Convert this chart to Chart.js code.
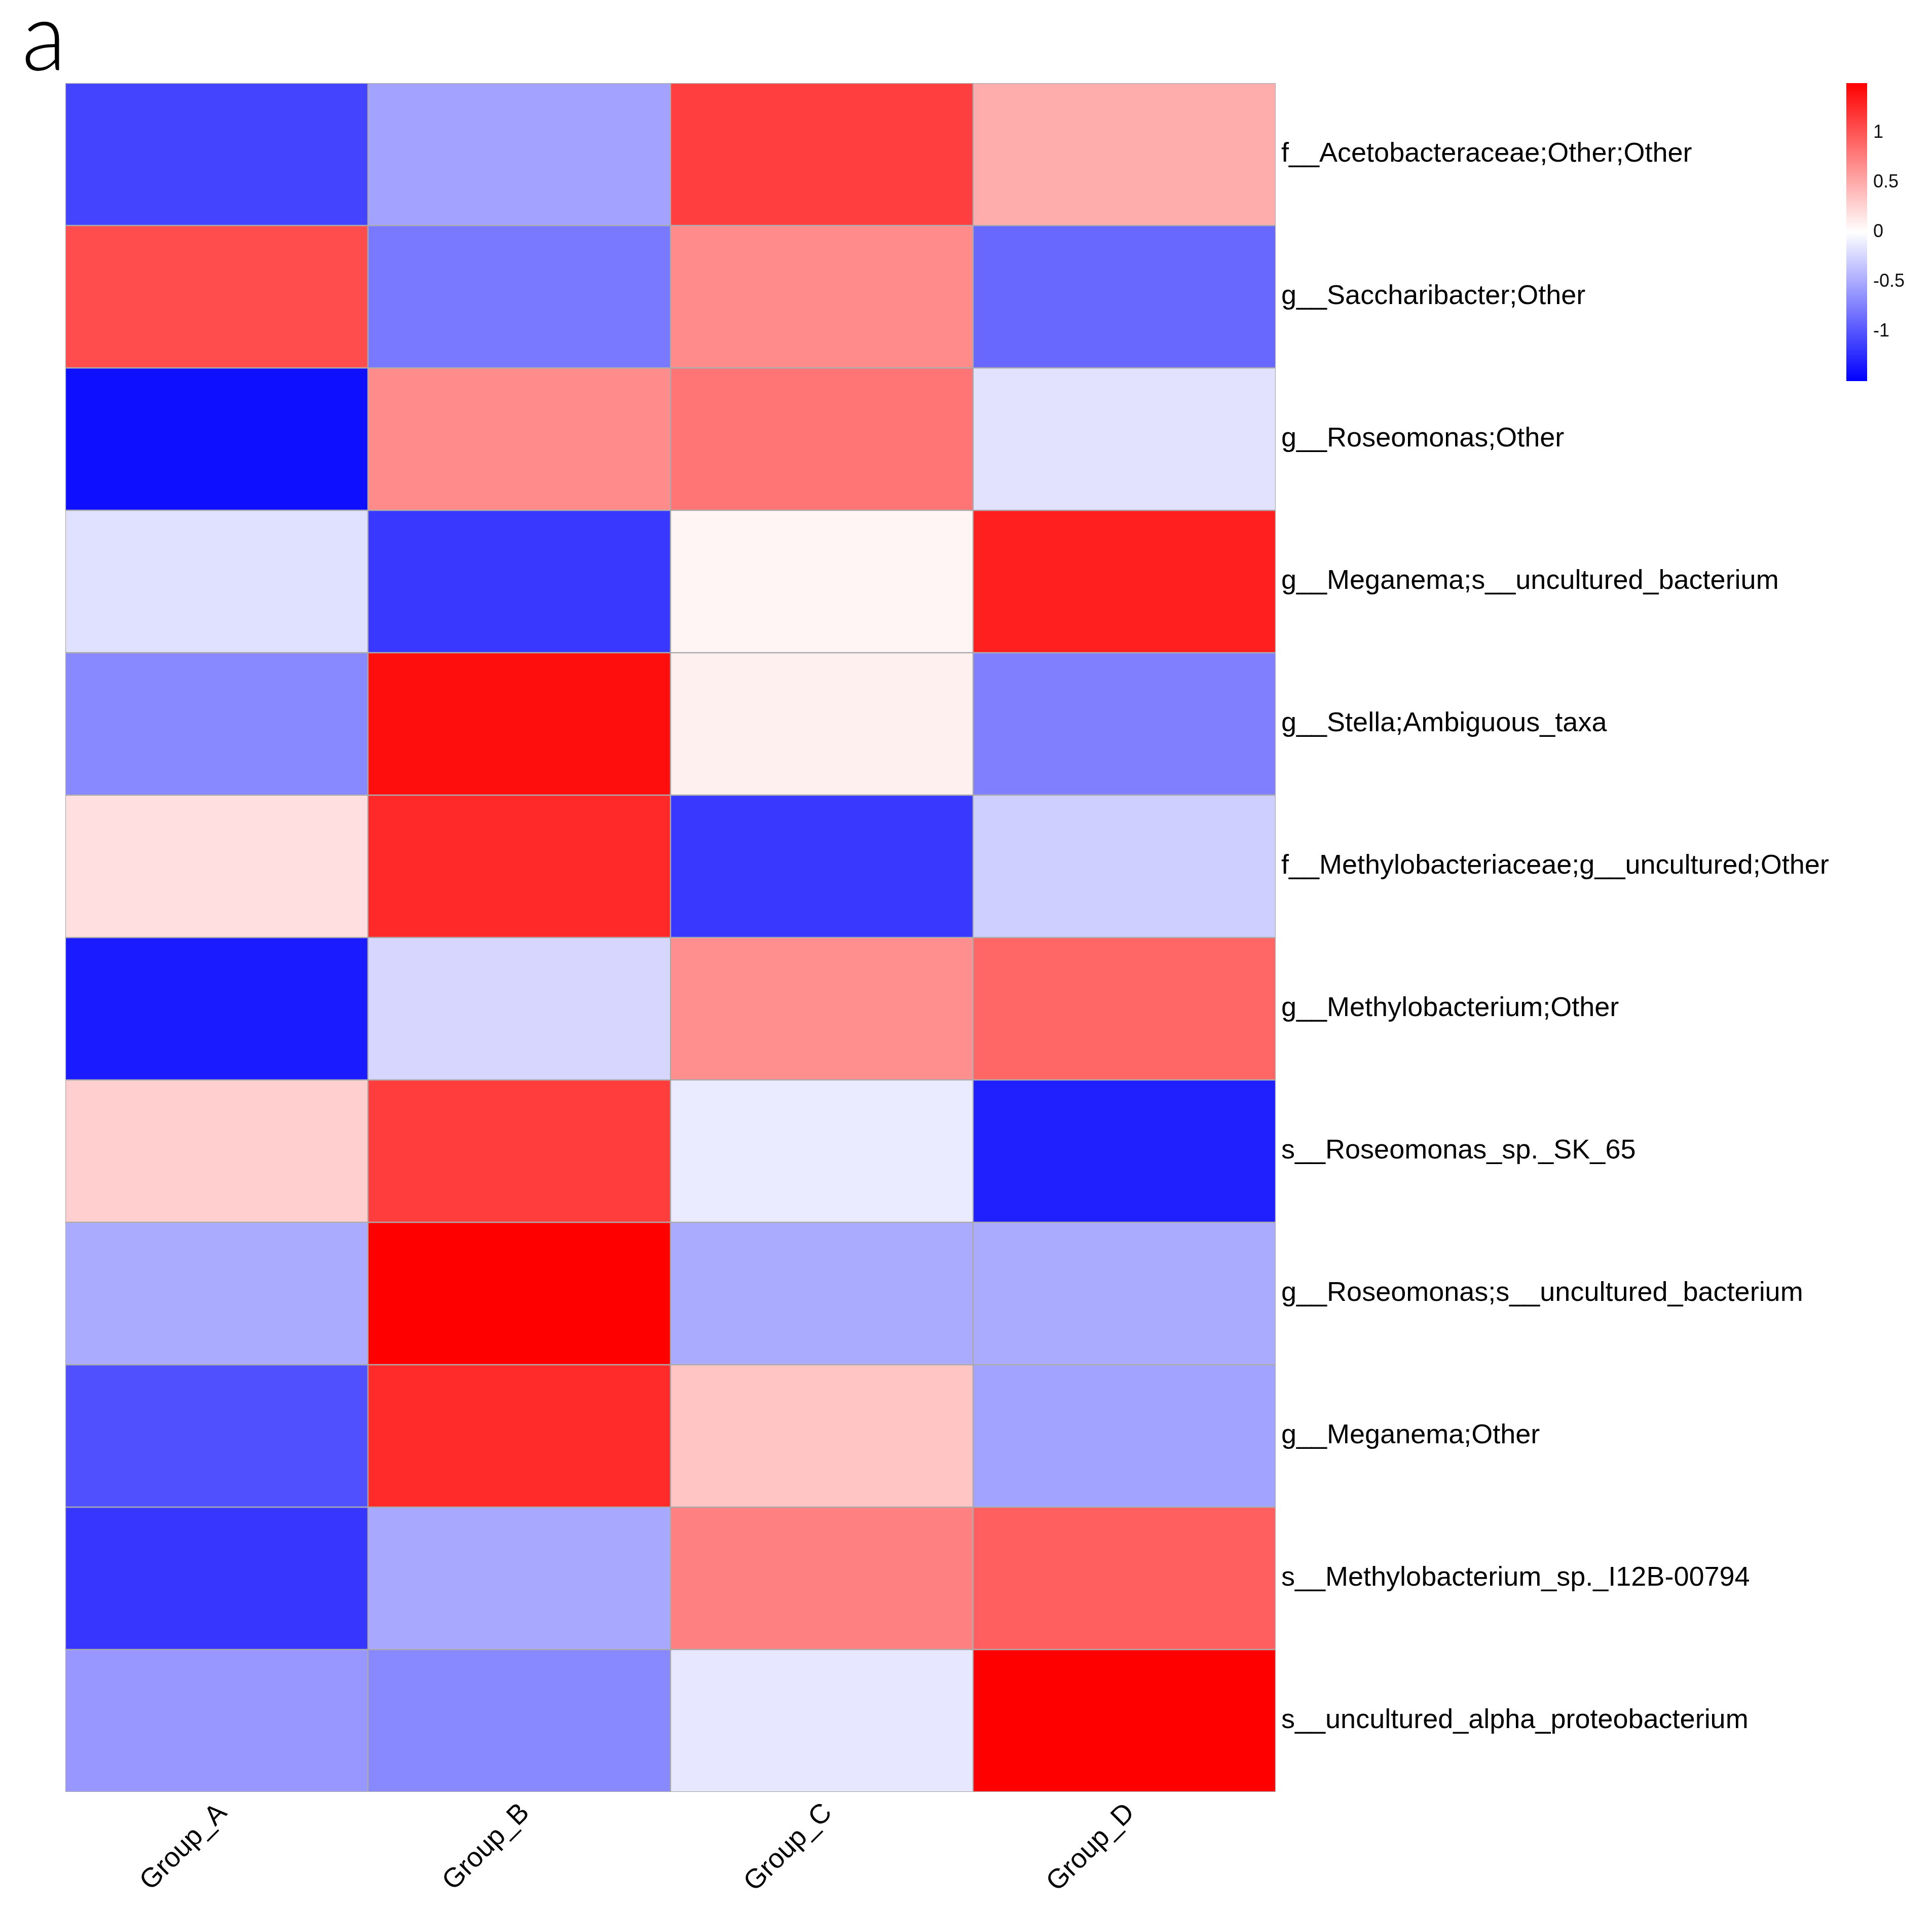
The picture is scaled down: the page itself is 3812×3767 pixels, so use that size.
<!DOCTYPE html>
<html>
<head>
<meta charset="utf-8">
<script src="https://cdn.jsdelivr.net/npm/chart.js@4.4.1/dist/chart.umd.min.js"></script>
<style>
  body { margin: 0; background: #fff; }
  #wrap { position: relative; width: 3812px; height: 3767px; }
  #heat { position: absolute; left: 0; top: 0; width: 3812px; height: 3767px; }
  #bar { position: absolute; left: 3600px; top: 0; width: 212px; height: 900px; }
</style>
</head>
<body>
<div id="wrap">
  <canvas id="heat" width="3812" height="3767"></canvas>
  <canvas id="bar" width="212" height="900"></canvas>
</div>
<script>
const groups = ['Group_A', 'Group_B', 'Group_C', 'Group_D'];
const taxa = [
    'f__Acetobacteraceae;Other;Other',
    'g__Saccharibacter;Other',
    'g__Roseomonas;Other',
    'g__Meganema;s__uncultured_bacterium',
    'g__Stella;Ambiguous_taxa',
    'f__Methylobacteriaceae;g__uncultured;Other',
    'g__Methylobacterium;Other',
    's__Roseomonas_sp._SK_65',
    'g__Roseomonas;s__uncultured_bacterium',
    'g__Meganema;Other',
    's__Methylobacterium_sp._I12B-00794',
    's__uncultured_alpha_proteobacterium'
];
// z-scores per group, one value per taxon (top to bottom)
const groupA = [-1.10, 1.05, -1.41, -0.18, -0.70, 0.19, -1.34, 0.28, -0.50, -1.03, -1.18, -0.61];
const groupB = [-0.54, -0.79, 0.68, -1.17, 1.42, 1.26, -0.24, 1.14, 1.50, 1.25, -0.51, -0.70];
const groupC = [1.13, 0.68, 0.81, 0.06, 0.09, -1.17, 0.66, -0.12, -0.50, 0.35, 0.75, -0.14];
const groupD = [0.49, -0.89, -0.17, 1.32, -0.75, -0.29, 0.90, -1.31, -0.50, -0.55, 0.94, 1.50];
const legendTicks = [-1, -0.5, 0, 0.5, 1];
const LIMIT = 1.5;

const columns = [groupA, groupB, groupC, groupD];

function valueColor(v) {
    const t = Math.min(Math.abs(v) / LIMIT, 1);
    const c = Math.round(255 * (1 - t));
    return v >= 0 ? `rgb(255,${c},${c})` : `rgb(${c},${c},255)`;
}

// one floating-bar dataset per taxon row
const rowSets = taxa.map((name, r) => ({
    label: name,
    data: groups.map(() => [r, r + 1]),
    backgroundColor: columns.map(col => valueColor(col[r])),
    borderColor: '#a9a9a9',
    borderWidth: 1.5,
    borderSkipped: false,
    barPercentage: 1,
    categoryPercentage: 1,
    grouped: false
}));

const FONT = "'Liberation Sans', Arial, Helvetica, sans-serif";

const panelLetter = {
    id: 'panelLetter',
    afterDraw(chart) {
        const ctx = chart.ctx;
        ctx.save();
        ctx.font = "300 190px Lato, 'DejaVu Sans', sans-serif";
        ctx.fillStyle = '#000';
        ctx.textBaseline = 'alphabetic';
        ctx.translate(43, 138);
        ctx.scale(0.95, 1);
        ctx.fillText('a', 0, 0);
        ctx.restore();
    }
};

new Chart(document.getElementById('heat'), {
    type: 'bar',
    data: { labels: groups, datasets: rowSets },
    plugins: [panelLetter],
    options: {
        responsive: false,
        devicePixelRatio: 1,
        animation: false,
        layout: { padding: { left: 129, top: 164, right: 0, bottom: 0 } },
        plugins: { legend: { display: false }, tooltip: { enabled: false } },
        scales: {
            x: {
                type: 'category',
                grid: { display: false, drawTicks: false },
                border: { display: false },
                ticks: {
                    minRotation: 45,
                    maxRotation: 45,
                    padding: 10,
                    labelOffset: 12,
                    color: '#000',
                    font: { size: 54, family: FONT }
                },
                afterFit: s => { s.height = 231; }
            },
            y: {
                type: 'linear',
                min: 0,
                max: taxa.length,
                reverse: true,
                display: false
            },
            y2: {
                type: 'category',
                labels: taxa,
                position: 'right',
                offset: true,
                grid: { display: false, drawTicks: false },
                border: { display: false },
                ticks: {
                    padding: 11,
                    color: '#000',
                    autoSkip: false,
                    font: { size: 54, family: FONT }
                },
                afterFit: s => { s.width = 1295; }
            }
        }
    }
});

// colour key
new Chart(document.getElementById('bar'), {
    type: 'bar',
    data: {
        labels: ['z'],
        datasets: [{
            data: [[-LIMIT, LIMIT]],
            backgroundColor: context => {
                const { ctx, chartArea } = context.chart;
                if (!chartArea) return null;
                const g = ctx.createLinearGradient(0, chartArea.bottom, 0, chartArea.top);
                g.addColorStop(0, valueColor(-LIMIT));
                g.addColorStop(0.5, valueColor(0));
                g.addColorStop(1, valueColor(LIMIT));
                return g;
            },
            borderWidth: 0,
            barPercentage: 1,
            categoryPercentage: 1
        }]
    },
    options: {
        responsive: false,
        devicePixelRatio: 1,
        animation: false,
        layout: { padding: { left: 43, top: 164, right: 0, bottom: 148 } },
        plugins: { legend: { display: false }, tooltip: { enabled: false } },
        scales: {
            x: { display: false },
            y: {
                min: -LIMIT,
                max: LIMIT,
                position: 'right',
                grid: { display: false, drawTicks: false },
                border: { display: false },
                afterBuildTicks: s => { s.ticks = legendTicks.map(v => ({ value: v })); },
                ticks: {
                    padding: 12,
                    color: '#111',
                    font: { size: 36, family: FONT },
                    callback: v => String(v)
                },
                afterFit: s => { s.width = 128; }
            }
        }
    }
});
</script>
</body>
</html>
